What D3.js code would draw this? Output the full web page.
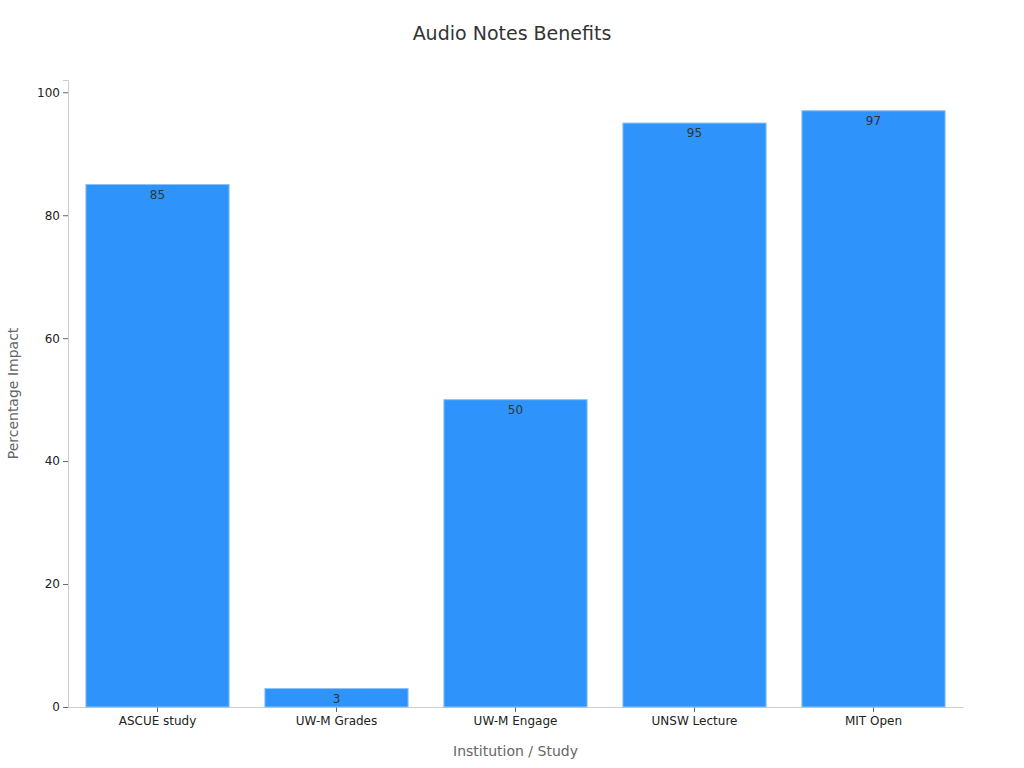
<!DOCTYPE html>
<html><head><meta charset="utf-8">
<script src="https://cdn.jsdelivr.net/npm/d3@7"></script>
<style>body{margin:0;background:#fff;font-family:"DejaVu Sans",sans-serif}</style>
</head><body><svg id="chart" width="1024" height="768"></svg>
<script>
const categories = ["ASCUE study", "UW-M Grades", "UW-M Engage", "UNSW Lecture", "MIT Open"]
const values = [85, 3, 50, 95, 97]
const yTicks = [0, 20, 40, 60, 80, 100]

const svg = d3.select("#chart")
const m = {left: 68, right: 61, top: 80, bottom: 61}
const w = 1024 - m.left - m.right
const h = 768 - m.top - m.bottom

const x = d3.scaleBand().domain(categories).range([0, w]).paddingInner(0.2).paddingOuter(0.1)
const y = d3.scaleLinear().domain([0, 102]).range([h, 0])

const g = svg.append("g").attr("transform", `translate(${m.left},${m.top})`)

svg.append("text").attr("x", 512).attr("y", 40).attr("text-anchor", "middle")
  .attr("font-size", 19).attr("fill", "#333").text("Audio Notes Benefits")

const yAxis = g.append("g").call(d3.axisLeft(y).tickValues(yTicks).tickSize(5).tickPadding(3))
const xAxis = g.append("g").attr("transform", `translate(0,${h})`)
  .call(d3.axisBottom(x).tickSize(5).tickPadding(4).tickSizeOuter(0))
for (const a of [yAxis, xAxis]) {
  a.select(".domain").attr("stroke", "#ccc")
  a.selectAll(".tick line").attr("stroke", "#666")
  a.selectAll("text").attr("font-size", 12).attr("fill", "#222").attr("font-family", "DejaVu Sans")
}

const defs = svg.append("defs")
categories.forEach((c, i) => {
  defs.append("clipPath").attr("id", "clip" + i).append("rect")
    .attr("x", x(c)).attr("y", y(values[i])).attr("width", x.bandwidth()).attr("height", h - y(values[i]))
})

g.selectAll("rect.bar").data(values).enter().append("rect").attr("class", "bar")
  .attr("x", (d, i) => x(categories[i])).attr("y", d => y(d))
  .attr("width", x.bandwidth()).attr("height", d => h - y(d))
  .attr("fill", "#2e93fa").attr("stroke", "#8cc2f8").attr("stroke-width", 1)

g.selectAll("text.lbl").data(values).enter().append("text").attr("class", "lbl")
  .attr("clip-path", (d, i) => `url(#clip${i})`)
  .attr("x", (d, i) => x(categories[i]) + x.bandwidth() / 2).attr("y", d => y(d) + 14)
  .attr("text-anchor", "middle").attr("font-size", 12).attr("fill", "#333").text(d => d)

svg.append("text").attr("x", m.left + w / 2).attr("y", 756).attr("text-anchor", "middle")
  .attr("font-size", 14).attr("fill", "#666").text("Institution / Study")
svg.append("text").attr("transform", `translate(18,${m.top + h / 2}) rotate(-90)`)
  .attr("text-anchor", "middle").attr("font-size", 14).attr("fill", "#666").text("Percentage Impact")
</script></body></html>
